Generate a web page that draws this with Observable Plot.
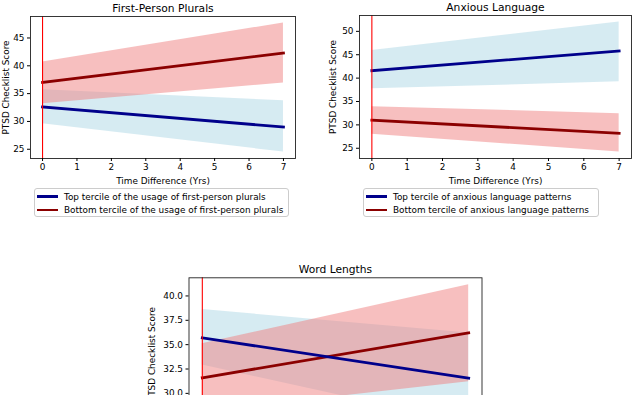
<!DOCTYPE html>
<html><head><meta charset="utf-8">
<script src="https://cdn.jsdelivr.net/npm/d3@7"></script>
<script src="https://cdn.jsdelivr.net/npm/@observablehq/plot@0.6"></script>
<style>
body{margin:0;background:#fff;}
#page{position:relative;width:640px;height:395px;overflow:hidden;font-family:"DejaVu Sans",sans-serif;background:#fff;}
.panel{position:absolute;}
.legend{position:absolute;border:1px solid #ccc;border-radius:3px;background:#fff;font-size:8.9px;color:#000;box-sizing:border-box;padding:1px 0 0 1.5px;}
.legend .row{display:flex;align-items:center;height:13.4px;white-space:nowrap;}
.legend .sw{width:21px;height:2.6px;margin-right:6.5px;flex:none;}
</style>
</head><body>
<div id="page"></div>
<script>
const years = [0, 7];
const xTicks = [0, 1, 2, 3, 4, 5, 6, 7];

// First-Person Plurals
const fppTopMean = [32.6, 29.0];
const fppTopLow = [29.6, 24.5];
const fppTopHigh = [35.7, 33.7];
const fppBottomMean = [37.0, 42.3];
const fppBottomLow = [33.2, 36.9];
const fppBottomHigh = [40.7, 47.7];
const fppTicks = [25, 30, 35, 40, 45];

// Anxious Language
const anxTopMean = [41.6, 45.8];
const anxTopLow = [37.7, 39.2];
const anxTopHigh = [45.9, 52.0];
const anxBottomMean = [31.0, 28.2];
const anxBottomLow = [28.0, 24.2];
const anxBottomHigh = [33.9, 32.4];
const anxTicks = [25, 30, 35, 40, 45, 50];

// Word Lengths
const wlTopMean = [35.7, 31.55];
const wlTopLow = [32.9, 26.9];
const wlTopHigh = [38.6, 36.2];
const wlBottomMean = [31.6, 36.2];
const wlBottomLow = [28.1, 31.2];
const wlBottomHigh = [35.1, 41.15];
const wlTicks = [27.5, 30, 32.5, 35, 37.5, 40];

const titles = ["First-Person Plurals", "Anxious Language", "Word Lengths"];
const xLabel = "Time Difference (Yrs)";
const yLabel = "PTSD Checklist Score";
const legend1 = ["Top tercile of the usage of first-person plurals", "Bottom tercile of the usage of first-person plurals"];
const legend2 = ["Top tercile of anxious language patterns", "Bottom tercile of anxious language patterns"];

const topColor = "darkblue", bottomColor = "darkred";
const topBand = "lightblue", bottomBand = "lightcoral";

function rows(mean, low, high) {
  return years.map((t, i) => ({t, mean: mean[i], low: low[i], high: high[i]}));
}
function padded(vals) {
  const lo = d3.min(vals), hi = d3.max(vals), p = 0.05 * (hi - lo);
  return [lo - p, hi + p];
}

function panel(cfg) {
  const top = rows(cfg.topMean, cfg.topLow, cfg.topHigh);
  const bot = rows(cfg.botMean, cfg.botLow, cfg.botHigh);
  const svg = Plot.plot({
    width: cfg.width, height: cfg.height,
    marginLeft: cfg.ml, marginRight: cfg.mr, marginTop: cfg.mt, marginBottom: cfg.mb,
    style: {fontFamily: "DejaVu Sans", fontSize: "8.9px", color: "#000", background: "transparent", overflow: "visible"},
    x: {domain: padded(years)},
    y: {domain: padded([...cfg.topLow, ...cfg.topHigh, ...cfg.botLow, ...cfg.botHigh])},
    marks: [
      Plot.areaY(top, {x: "t", y1: "low", y2: "high", fill: topBand, fillOpacity: 0.5}),
      Plot.areaY(bot, {x: "t", y1: "low", y2: "high", fill: bottomBand, fillOpacity: 0.5}),
      Plot.lineY(bot, {x: "t", y: "mean", stroke: bottomColor, strokeWidth: 2.8, strokeLinecap: "square"}),
      Plot.lineY(top, {x: "t", y: "mean", stroke: topColor, strokeWidth: 2.8, strokeLinecap: "square"}),
      Plot.ruleX([0], {stroke: "red", strokeWidth: 1.1}),
      Plot.frame({stroke: "#222", strokeWidth: 0.9}),
      Plot.axisX({ticks: xTicks, tickSize: 3, tickPadding: 2.5, stroke: "#000", label: xLabel, labelAnchor: "center", labelOffset: 25, labelArrow: "none"}),
      Plot.axisY({ticks: cfg.yTicks, tickFormat: cfg.yFormat, tickSize: 3, tickPadding: 3, stroke: "#000", label: yLabel, labelAnchor: "center", labelOffset: cfg.yLabelOffset, labelArrow: "none"}),
      Plot.text([cfg.title], {text: d => d, frameAnchor: "top", dy: -5, lineAnchor: "bottom", fontSize: 10.7, fill: "#000"})
    ]
  });
  svg.classList.add("panel");
  svg.style.left = cfg.left + "px";
  svg.style.top = cfg.topPx + "px";
  document.getElementById("page").appendChild(svg);
}

function legend(items, left, top, width, height) {
  const div = document.createElement("div");
  div.className = "legend";
  Object.assign(div.style, {left: left + "px", top: top + "px", width: width + "px", height: height + "px"});
  const colors = [topColor, bottomColor];
  items.forEach((txt, i) => {
    const r = document.createElement("div");
    r.className = "row";
    const sw = document.createElement("span");
    sw.className = "sw";
    sw.style.background = colors[i];
    const t = document.createElement("span");
    t.textContent = txt;
    r.appendChild(sw); r.appendChild(t);
    div.appendChild(r);
  });
  document.getElementById("page").appendChild(div);
}

panel({title: titles[0], topMean: fppTopMean, topLow: fppTopLow, topHigh: fppTopHigh,
  botMean: fppBottomMean, botLow: fppBottomLow, botHigh: fppBottomHigh, yTicks: fppTicks, yFormat: d3.format("d"),
  left: 0, topPx: 0, width: 310, height: 185, ml: 30, mr: 15, mt: 16, mb: 27, yLabelOffset: 28});
panel({title: titles[1], topMean: anxTopMean, topLow: anxTopLow, topHigh: anxTopHigh,
  botMean: anxBottomMean, botLow: anxBottomLow, botHigh: anxBottomHigh, yTicks: anxTicks, yFormat: d3.format("d"),
  left: 320, topPx: 0, width: 320, height: 185, ml: 39, mr: 9, mt: 15, mb: 27, yLabelOffset: 30});
panel({title: titles[2], topMean: wlTopMean, topLow: wlTopLow, topHigh: wlTopHigh,
  botMean: wlBottomMean, botLow: wlBottomLow, botHigh: wlBottomHigh, yTicks: wlTicks, yFormat: d3.format(".1f"),
  left: 130, topPx: 255, width: 360, height: 200, ml: 58.5, mr: 8.5, mt: 22.3, mb: 25, yLabelOffset: 40});

legend(legend1, 34, 188, 255, 29);
legend(legend2, 363, 188, 236, 29);
</script>
</body></html>
